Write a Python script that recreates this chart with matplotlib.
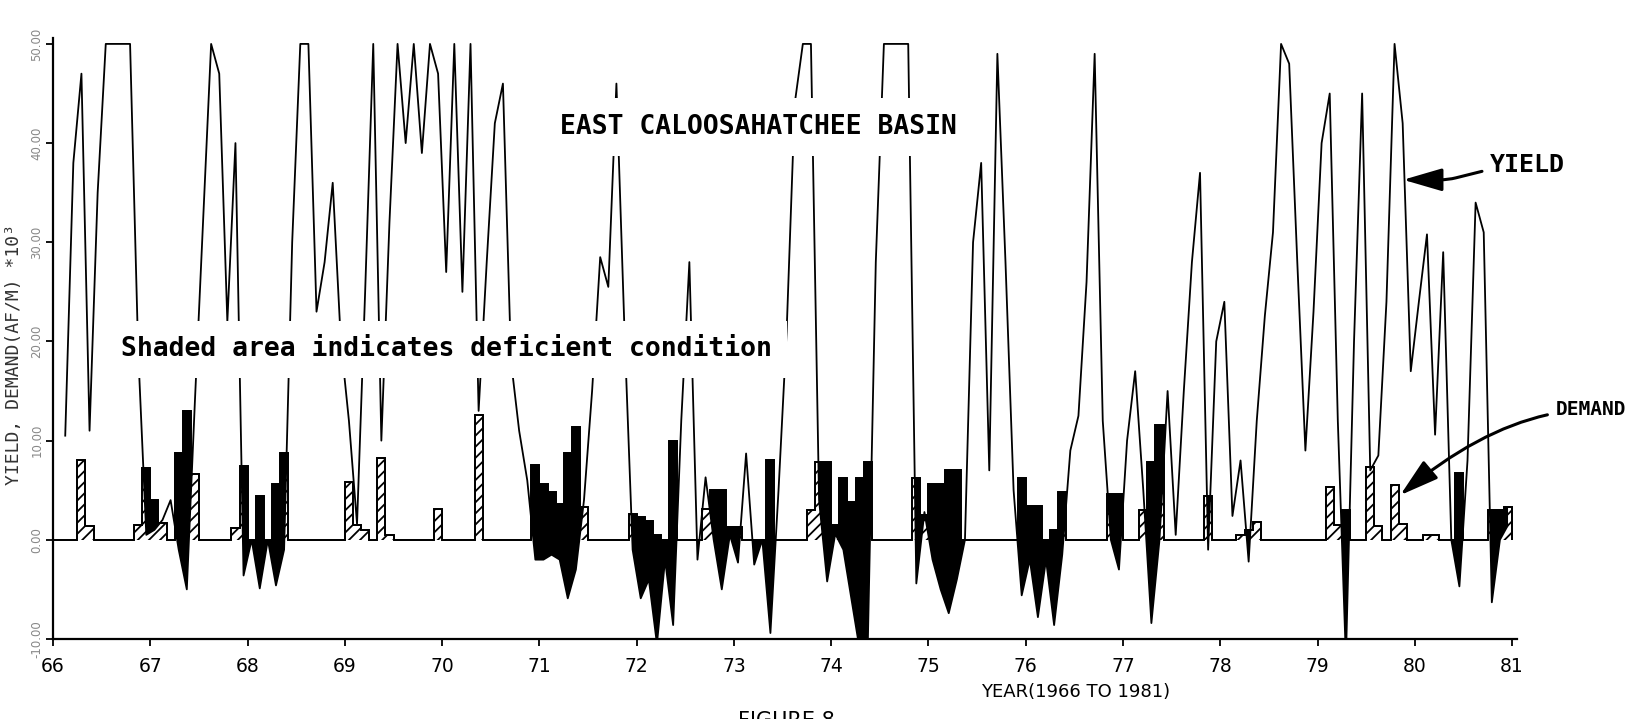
import numpy as np
import matplotlib
matplotlib.use('Agg')
import matplotlib.pyplot as plt

# monthly yield and demand, AF/month x 1000, Jan 1966 .. Dec 1980
yield_66 = [np.nan, 10.5, 38, 47, 11, 35, 50, 50, 50, 50, 19, 0.5]
yield_67 = [1, 2, 4, -1, -5, 14, 32, 50, 47, 22, 40, -3.6]
yield_68 = [0, -4.9, 0, -4.6, -1, 30, 50, 50, 23, 28, 36, 20]
yield_69 = [12, 1.6, 25, 50, 10, 32, 50, 40, 50, 39, 50, 47]
yield_70 = [27, 50, 25, 50, 13, 28, 42, 46, 18, 11, 6, -2]
yield_71 = [-2, -1.5, -2, -5.9, -3, 4, 15, 28.5, 25.5, 46, 21, -1]
yield_72 = [-5.9, -4, -10.5, -2, -8.6, 12, 28, -2, 6.3, 0, -5, 0.5]
yield_73 = [-2.3, 8.7, -2.5, 0, -9.4, 5, 21, 44, 50, 50, 4, -4.2]
yield_74 = [0.6, -1, -6, -11, -11, 28, 50, 50, 50, 50, -4.4, 2.8]
yield_75 = [-2, -5, -7.4, -4, 0, 30, 38, 7, 49, 28, 5, -5.6]
yield_76 = [-2, -7.8, -2, -8.6, -1.5, 9, 12.5, 26, 49, 12, 0, -3]
yield_77 = [10, 17, 5, -8.4, 0, 15, 0.5, 15, 28, 37, -1, 20]
yield_78 = [24, 2.4, 8, -2.2, 12, 22.6, 31, 50, 48, 28, 9, 23]
yield_79 = [40, 45, 12, -12, 20, 45, 7, 8.5, 24, 50, 42, 17]
yield_80 = [24, 30.8, 10.6, 29, 0, -4.7, 8, 34, 31, -6.3, 0, 1.5]

demand_66 = [0, 0, 0, 8.0, 1.4, 0, 0, 0, 0, 0, 1.5, 7.2]
demand_67 = [4.0, 1.7, 0, 8.8, 13, 6.6, 0, 0, 0, 0, 1.2, 7.4]
demand_68 = [0, 4.4, 0, 5.6, 8.8, 0, 0, 0, 0, 0, 0, 0]
demand_69 = [5.8, 1.5, 1.0, 0, 8.2, 0.5, 0, 0, 0, 0, 0, 3.1]
demand_70 = [0, 0, 0, 0, 12.6, 0, 0, 0, 0, 0, 0, 7.5]
demand_71 = [5.6, 4.8, 3.6, 8.8, 11.4, 3.3, 0, 0, 0, 0, 0, 2.6]
demand_72 = [2.3, 1.9, 0.5, 0, 10, 0, 0, 0, 3.1, 5, 5, 1.3]
demand_73 = [1.3, 0, 0, 0, 8, 0, 0, 0, 0, 3, 7.8, 7.8]
demand_74 = [1.5, 6.2, 3.8, 6.2, 7.8, 0, 0, 0, 0, 0, 6.2, 2.5]
demand_75 = [5.6, 5.6, 7, 7, 0, 0, 0, 0, 0, 0, 0, 6.2]
demand_76 = [3.4, 3.4, 0, 1, 4.8, 0, 0, 0, 0, 0, 4.6, 4.6]
demand_77 = [0, 0, 3, 7.8, 11.6, 0, 0, 0, 0, 0, 4.4, 0]
demand_78 = [0, 0, 0.5, 1, 1.8, 0, 0, 0, 0, 0, 0, 0]
demand_79 = [0, 5.3, 1.5, 3, 0, 0, 7.3, 1.4, 0, 5.5, 1.6, 0]
demand_80 = [0, 0.5, 0.5, 0, 0, 6.7, 0, 0, 0, 3, 3, 3.3]

year_ticks = list(range(66, 82))

yield_af = np.array(yield_66 + yield_67 + yield_68 + yield_69 + yield_70 + yield_71 +
                    yield_72 + yield_73 + yield_74 + yield_75 + yield_76 + yield_77 +
                    yield_78 + yield_79 + yield_80, dtype=float)
demand_af = np.array(demand_66 + demand_67 + demand_68 + demand_69 + demand_70 + demand_71 +
                     demand_72 + demand_73 + demand_74 + demand_75 + demand_76 + demand_77 +
                     demand_78 + demand_79 + demand_80, dtype=float)

n = len(yield_af)
edges = 66 + np.arange(n + 1) / 12.0
t = 66 + (np.arange(n) + 0.5) / 12.0

plt.rcParams['hatch.linewidth'] = 1.3
mono = 'DejaVu Sans Mono'

fig = plt.figure(figsize=(16.38, 7.19), dpi=100)
ax = fig.add_axes([0.0324, 0.1113, 0.8937, 0.8359])

# demand: hatched monthly bars on a zero baseline
ax.stairs(demand_af, edges, fill=True, facecolor='white', edgecolor='black',
          hatch='///', lw=1.3, zorder=2)
ax.stairs(demand_af, edges, color='black', lw=1.3, zorder=3)

# deficit (yield below demand) shaded black
ok = ~np.isnan(yield_af)
xf = np.linspace(t[ok][0], t[-1], 6000)
yf = np.interp(xf, t[ok], yield_af[ok])
df = demand_af[np.clip(np.floor((xf - 66) * 12).astype(int), 0, n - 1)]
ax.fill_between(xf, yf, df, where=yf < df, interpolate=True, color='black', lw=0, zorder=4)

ax.plot(t, yield_af, color='black', lw=1.3, zorder=5)

ax.set_xlim(66, 81.05)
ax.set_ylim(-10, 50.6)
ax.set_xticks(year_ticks)
ax.set_xticklabels([str(y) for y in year_ticks], fontsize=13.5)
yt = list(range(-10, 51, 10))
ax.set_yticks(yt)
ax.set_yticklabels(['%.2f' % v for v in yt], rotation=90, va='center', fontsize=8.5, color='#888888')
ax.tick_params(axis='x', length=5, width=1.3, pad=8)
ax.tick_params(axis='y', length=5, width=1.3, pad=2)
for s in ['top', 'right']:
    ax.spines[s].set_visible(False)
for s in ['left', 'bottom']:
    ax.spines[s].set_linewidth(1.6)

box = dict(boxstyle='square,pad=0.6', fc='white', ec='none')
ax.text(73.25, 41.6, 'EAST CALOOSAHATCHEE BASIN', family=mono, weight='bold', fontsize=19,
        ha='center', va='center', bbox=box, zorder=6)
ax.text(70.04, 19.2, 'Shaded area indicates deficient condition', family=mono, weight='bold',
        fontsize=19, ha='center', va='center', bbox=box, zorder=6)

ax.annotate('YIELD', xy=(79.88, 36.3), xytext=(81.16, 37.8), family=mono, weight='bold',
            fontsize=18, ha='center', va='center', annotation_clip=False, zorder=7,
            arrowprops=dict(arrowstyle='-|>,head_length=1.2,head_width=0.35', color='black', lw=2.2,
                            mutation_scale=20, shrinkA=4, shrinkB=0,
                            connectionstyle='arc,angleA=180,angleB=0,armA=20,armB=45,rad=8'))
ax.annotate('DEMAND', xy=(79.85, 4.5), xytext=(81.81, 13.1), family=mono, weight='bold',
            fontsize=14, ha='center', va='center', annotation_clip=False, zorder=7,
            arrowprops=dict(arrowstyle='-|>,head_length=1.2,head_width=0.35', color='black', lw=2.2,
                            mutation_scale=20, shrinkA=4, shrinkB=0,
                            connectionstyle='angle3,angleA=180,angleB=40'))

fig.text(14 / 1638, 1 - 355 / 719, 'YIELD, DEMAND(AF/M) *10³', rotation=90, ha='center',
         va='center', fontsize=13, family=mono, color='#333333')
fig.text(1076 / 1638, 1 - 692 / 719, 'YEAR(1966 TO 1981)', ha='center', va='center', fontsize=13)
fig.text(786 / 1638, 1 - 711 / 719, 'FIGURE 8', ha='center', va='top', fontsize=15)

fig.savefig('out.png', dpi=100)
